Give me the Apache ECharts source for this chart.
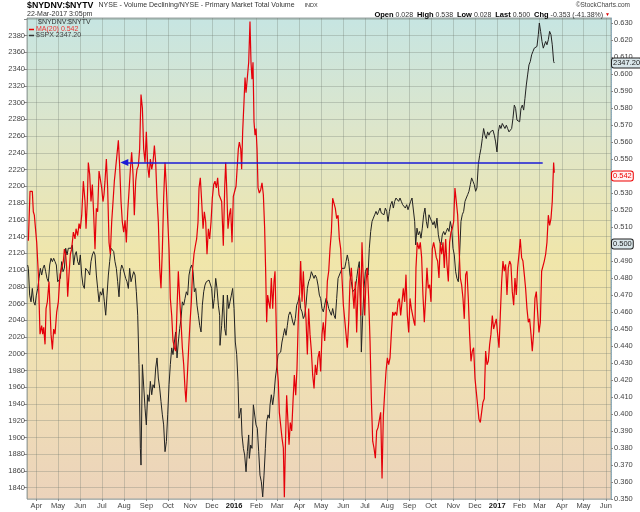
<!DOCTYPE html>
<html><head><meta charset="utf-8">
<script src="https://cdn.jsdelivr.net/npm/echarts@6/dist/echarts.min.js"></script>
<style>html,body{margin:0;padding:0;background:#fff}#c{width:640px;height:512px}</style>
</head><body><div id="c"></div>
<script>
// x positions are days since 2015-04-01
const maDays = [-11.2,-8.9,-5.7,-4.3,-2.9,0.4,2.7,5.0,7.3,8.7,10.1,12.0,13.4,15.2,17.5,20.3,22.2,24.0,25.9,28.2,30.5,32.8,35.1,37.5,38.9,40.7,42.1,43.5,45.3,47.2,49.0,51.4,53.7,55.1,57.4,59.3,61.1,63.0,65.3,67.6,69.0,70.8,72.2,74.1,75.9,77.8,79.7,81.5,83.4,85.2,87.1,88.9,90.8,92.6,94.0,95.4,97.3,99.1,101.0,102.8,104.7,106.6,108.4,110.3,112.1,114.0,115.8,117.7,119.5,121.4,123.3,125.1,127.0,128.8,130.7,132.5,134.4,136.2,138.1,139.9,141.8,143.6,145.5,147.4,149.2,151.1,152.9,154.8,156.7,158.5,160.4,162.2,164.1,165.9,167.8,169.6,171.5,173.3,175.2,177.0,178.9,180.8,182.6,184.5,186.3,188.2,190.0,191.9,193.7,195.6,197.4,199.3,201.2,203.0,204.9,206.7,208.1,210.0,211.8,213.7,215.5,217.4,219.2,221.1,222.9,224.8,226.2,228.0,229.9,231.8,233.6,235.5,237.3,239.2,241.0,242.9,244.7,246.6,248.4,250.3,252.1,254.0,
255.4,257.7,260.0,261.9,263.3,264.7,266.5,268.4,270.2,272.1,273.9,275.8,277.7,279.5,280.9,282.3,284.2,285.5,286.9,288.8,290.2,291.6,293.4,295.3,297.1,298.5,299.9,301.3,302.7,304.1,305.5,306.9,308.3,310.1,312.0,313.8,315.7,317.5,318.9,320.3,321.7,323.1,325.0,326.8,328.7,330.5,331.9,333.3,334.7,336.5,337.9,339.8,341.6,343.5,344.9,346.3,348.1,349.5,351.4,353.2,355.1,356.9,358.8,360.7,362.5,364.4,366.2,367.6,369.5,371.3,373.2,375.0,376.9,378.7,380.6,382.5,384.3,386.2,388.0,389.9,391.7,393.6,395.4,397.3,399.1,401.0,402.9,404.7,406.6,408.4,410.3,412.1,414.0,415.8,417.7,419.6,421.4,423.3,425.1,427.0,428.8,430.7,432.5,434.4,436.2,438.1,440.0,441.8,443.7,445.5,447.4,449.2,451.1,452.9,454.8,456.6,458.5,460.4,462.2,464.1,465.9,467.8,469.6,471.5,473.3,475.2,477.0,478.9,480.8,482.6,484.5,486.3,488.2,490.0,491.9,493.7,495.6,497.4,499.3,501.2,503.0,504.9,506.7,508.6,510.4,512.3,514.1,516.0,517.9,519.7,521.6,523.4,525.3,
526.6,528.0,529.8,532.2,534.0,535.9,537.7,539.6,541.4,543.3,545.1,547.0,548.9,550.7,552.6,554.4,556.3,558.1,560.0,561.8,563.7,565.6,567.4,569.3,571.1,573.0,574.8,576.7,578.5,580.4,582.2,584.1,586.0,587.8,589.7,591.5,593.4,595.2,597.1,598.9,600.8,602.6,604.5,606.4,608.2,610.1,611.9,613.8,615.6,617.5,619.3,621.2,623.0,624.9,626.8,628.6,630.5,632.3,634.2,636.0,637.9,639.7,641.6,643.5,645.3,647.2,649.0,650.9,652.7,654.6,656.4,658.3,660.1,662.0,663.9,665.7,667.6,669.4,671.3,673.1,675.0,676.8,678.7,680.5,682.4,684.3,686.1,688.0,689.8,691.7,693.5,695.4,697.2,699.1,701.0,702.8,704.7,706.5,708.4,710.2,712.1,713.9,715.8,717.6,719.5,720.4];
const maVals = [0.502,0.531,0.531,0.519,0.517,0.501,0.482,0.447,0.452,0.447,0.451,0.441,0.462,0.466,0.478,0.447,0.438,0.450,0.447,0.460,0.466,0.482,0.486,0.490,0.497,0.494,0.486,0.469,0.482,0.494,0.497,0.507,0.503,0.509,0.505,0.512,0.509,0.517,0.537,0.525,0.509,0.525,0.548,0.541,0.525,0.535,0.517,0.497,0.521,0.519,0.543,0.543,0.533,0.525,0.529,0.537,0.550,0.533,0.501,0.494,0.513,0.525,0.537,0.545,0.545,0.561,0.546,0.525,0.513,0.507,0.514,0.501,0.519,0.531,0.544,0.554,0.541,0.517,0.537,0.544,0.546,0.556,0.588,0.580,0.556,0.548,0.566,0.546,0.539,0.550,0.544,0.548,0.558,0.548,0.527,0.513,0.486,0.474,0.497,0.527,0.548,0.533,0.515,0.497,0.468,0.458,0.443,0.439,0.437,0.462,0.484,0.468,0.454,0.439,0.429,0.415,0.407,0.423,0.439,0.454,0.466,0.486,0.494,0.499,0.503,0.513,0.533,0.539,0.525,0.509,0.519,0.513,0.494,0.509,0.503,0.513,0.527,0.535,0.537,0.533,0.539,0.529,
0.528,0.525,0.499,0.533,0.548,0.533,0.509,0.517,0.521,0.501,0.528,0.527,0.534,0.535,0.556,0.560,0.556,0.544,0.566,0.584,0.598,0.589,0.589,0.607,0.631,0.607,0.597,0.607,0.572,0.564,0.568,0.556,0.533,0.530,0.532,0.536,0.529,0.509,0.484,0.454,0.470,0.466,0.462,0.480,0.462,0.478,0.484,0.458,0.429,0.419,0.401,0.402,0.386,0.380,0.351,0.380,0.411,0.399,0.382,0.395,0.390,0.407,0.423,0.411,0.427,0.458,0.472,0.490,0.466,0.484,0.466,0.456,0.435,0.462,0.447,0.437,0.423,0.415,0.429,0.423,0.433,0.437,0.425,0.447,0.454,0.443,0.458,0.478,0.484,0.497,0.507,0.527,0.527,0.521,0.515,0.517,0.503,0.497,0.480,0.464,0.456,0.447,0.439,0.454,0.478,0.486,0.472,0.462,0.478,0.448,0.474,0.486,0.458,0.501,0.478,0.458,0.478,0.486,0.468,0.443,0.409,0.384,0.380,0.374,0.390,0.392,0.392,0.401,0.362,0.399,0.413,0.425,0.433,0.429,0.433,0.447,0.460,0.458,0.460,0.458,0.466,0.468,0.458,0.466,0.474,0.466,0.482,0.458,0.448,0.468,0.462,0.458,0.454,
0.452,0.486,0.501,0.497,0.501,0.492,0.470,0.454,0.468,0.486,0.474,0.476,0.466,0.497,0.501,0.497,0.492,0.490,0.480,0.501,0.494,0.501,0.486,0.503,0.488,0.478,0.501,0.507,0.509,0.513,0.533,0.533,0.517,0.499,0.480,0.476,0.468,0.456,0.482,0.484,0.468,0.447,0.431,0.437,0.439,0.421,0.413,0.405,0.397,0.395,0.401,0.407,0.409,0.437,0.429,0.431,0.441,0.447,0.458,0.450,0.450,0.456,0.447,0.439,0.458,0.478,0.490,0.484,0.488,0.470,0.486,0.490,0.488,0.472,0.464,0.480,0.470,0.486,0.494,0.503,0.492,0.490,0.482,0.474,0.462,0.454,0.456,0.447,0.437,0.448,0.468,0.472,0.460,0.448,0.454,0.484,0.484,0.490,0.494,0.501,0.517,0.511,0.515,0.525,0.548,0.542];
const spxDays = [-12.2,-11.2,-9.4,-7.5,-5.7,-3.8,-1.9,-0.1,1.8,3.6,5.5,7.3,9.2,11.0,12.9,14.7,16.6,18.5,20.3,22.2,24.0,25.9,27.7,29.6,31.4,33.3,35.1,37.0,38.9,40.7,42.6,44.4,46.3,48.1,50.0,51.8,53.7,55.5,57.4,59.3,61.1,63.0,64.8,66.7,68.5,70.4,72.2,74.1,75.9,77.8,79.7,81.5,83.4,85.2,87.1,88.9,90.8,92.6,94.5,96.4,98.2,100.1,101.9,103.8,105.6,107.5,109.3,111.2,113.0,114.9,116.8,118.6,120.5,122.3,124.2,126.0,127.9,129.7,131.6,133.5,135.3,137.2,139.0,140.9,142.7,144.6,145.5,147.4,149.2,151.1,152.9,154.8,156.7,158.5,160.4,162.2,164.1,165.9,167.8,169.6,171.5,173.3,175.2,177.0,178.9,180.8,182.6,184.5,186.3,188.2,190.0,191.9,193.7,195.6,197.4,199.3,201.2,203.0,204.9,206.7,208.6,210.4,212.3,214.1,216.0,217.9,219.7,221.6,223.4,225.3,227.1,229.0,230.8,232.7,234.5,236.4,238.3,240.1,242.0,243.8,245.7,247.5,249.4,251.2,253.1,254.9,
255.4,257.7,260.0,261.9,263.7,265.6,267.5,269.3,271.2,273.0,274.9,276.7,278.6,280.4,281.8,283.2,284.6,286.0,287.9,289.7,291.6,293.4,295.3,296.2,298.1,299.9,301.8,303.6,305.5,307.3,309.2,311.0,312.9,314.8,316.6,318.5,320.3,322.2,324.0,325.0,326.8,328.7,330.5,332.4,334.2,336.1,337.9,339.8,341.6,343.5,345.4,347.2,349.1,350.9,352.8,354.6,356.5,358.3,360.2,362.0,363.9,365.8,367.6,369.5,371.3,373.2,375.0,376.9,378.7,380.6,382.5,384.3,386.2,388.0,389.9,391.7,393.6,395.4,397.3,399.1,401.0,402.9,404.7,406.6,408.4,410.3,412.1,414.0,415.8,417.7,419.6,421.4,423.3,425.1,427.0,428.8,430.7,432.5,434.4,436.2,438.1,440.0,441.8,443.7,445.5,447.4,449.2,451.1,452.0,453.9,455.7,457.6,459.4,461.3,463.1,465.0,466.9,468.7,470.6,472.4,474.3,476.1,478.0,479.8,481.7,483.5,485.4,487.3,489.1,491.0,492.8,494.7,496.5,498.4,500.2,502.1,503.9,505.8,507.6,509.5,511.4,513.2,515.1,516.9,518.8,520.6,522.5,524.3,526.2,527.6,
529.4,531.2,533.1,535.0,536.8,538.7,540.5,542.4,544.2,546.1,547.9,549.8,551.6,553.5,555.3,557.2,559.1,560.9,562.8,564.6,566.5,568.3,570.2,572.0,573.9,575.8,577.6,579.5,581.3,583.2,585.0,586.9,588.7,590.6,592.4,594.3,596.2,598.0,599.9,601.7,603.6,605.4,607.3,609.1,611.0,612.8,614.7,616.6,618.4,620.3,622.1,624.0,625.8,627.7,629.5,631.4,633.3,635.1,637.0,638.8,640.7,642.5,644.4,646.2,648.1,649.9,651.8,653.7,655.5,657.4,659.2,661.1,662.9,664.8,666.6,668.5,670.3,672.2,674.1,675.9,677.8,679.6,681.5,683.3,685.2,687.0,688.9,690.7,692.6,694.5,696.3,698.2,699.6,701.4,703.3,705.1,706.5,708.4,710.2,712.1,713.9,715.8,717.6,719.5,720.4];
const spxVals = [2106,2102,2070,2062,2078,2062,2058,2070,2078,2090,2102,2094,2102,2106,2098,2090,2086,2106,2114,2110,2114,2110,2106,2086,2086,2090,2110,2098,2102,2126,2118,2126,2128,2126,2130,2106,2118,2122,2110,2106,2118,2094,2082,2078,2102,2102,2098,2094,2110,2118,2122,2118,2094,2078,2062,2074,2070,2078,2062,2046,2070,2094,2110,2126,2128,2122,2110,2102,2086,2068,2098,2106,2102,2102,2090,2086,2078,2102,2086,2086,2098,2094,2074,2046,1987,1887,1867,1987,1987,1935,1915,1951,1943,1967,1951,1963,1959,1983,1995,1971,1959,1943,1927,1915,1883,1895,1927,1963,1987,2007,1999,2014,2026,1995,2014,2030,2042,2062,2058,2066,2074,2070,2094,2102,2106,2098,2074,2078,2058,2046,2034,2026,2058,2074,2082,2086,2086,2088,2090,2078,2054,2066,2090,2078,2058,2046,
2010,2034,2070,2030,2022,2070,2054,2062,2070,2078,2054,2014,1999,1967,1923,1923,1935,1903,1887,1879,1859,1883,1903,1875,1891,1887,1939,1939,1915,1911,1883,1855,1847,1829,1855,1887,1919,1927,1923,1939,1951,1939,1951,1971,1983,1999,1999,2002,2014,2022,2030,2022,2034,2046,2050,2046,2038,2034,2042,2058,2062,2070,2054,2050,2042,2046,2058,2078,2086,2090,2098,2098,2090,2094,2090,2082,2070,2066,2054,2050,2058,2066,2062,2054,2050,2046,2054,2046,2042,2066,2090,2090,2098,2102,2102,2102,2110,2118,2110,2094,2086,2074,2074,2078,2090,2102,2110,2058,2002,2046,2078,2098,2102,2094,2126,2146,2158,2162,2166,2170,2166,2170,2174,2168,2170,2166,2174,2170,2158,2170,2178,2182,2174,2182,2186,2188,2182,2186,2182,2178,2176,2174,2178,2172,2170,2182,2186,2184,2158,2130,
2150,2142,2146,2138,2150,2166,2174,2158,2150,2166,2162,2158,2154,2158,2150,2162,2142,2134,2130,2142,2146,2142,2146,2150,2146,2158,2150,2126,2118,2098,2090,2086,2118,2158,2166,2170,2182,2186,2190,2194,2202,2210,2206,2202,2194,2198,2226,2237,2245,2257,2269,2261,2257,2265,2261,2265,2263,2267,2261,2253,2241,2265,2273,2269,2275,2273,2269,2273,2269,2265,2267,2269,2281,2297,2293,2279,2277,2277,2293,2297,2291,2305,2321,2333,2345,2349,2357,2361,2365,2365,2367,2381,2395,2385,2373,2365,2367,2373,2369,2375,2385,2381,2369,2349,2347.2];

const maLast = 0.542, rawLast = 0.500, spxLast = 2347.20;
const arrowDays = [122.3, 704.3], arrowLevel = 0.548;
const xRangeDays = [-13.1, 799.3];
const leftRange = [1826.5, 2401], rightRange = [0.350, 0.633];
const MONTHS = ['Jan','Feb','Mar','Apr','May','Jun','Jul','Aug','Sep','Oct','Nov','Dec'];

const DAY = 864e5;
const base = new Date(2015, 3, 1).getTime();
const t = d => base + d * DAY;
const maData = maDays.map((d, i) => [t(d), maVals[i]]);
const spxData = spxDays.map((d, i) => [t(d), spxVals[i]]);

const FONT = '"Liberation Sans", Arial, sans-serif';
const gridCol = 'rgba(110,120,110,0.3)';
const hidden = {color: 'rgba(0,0,0,0)', width: 0, type: 'solid'};
const boxLabel = (text, color, bg) => ({show: true, position: 'end', distance: 1, formatter: () => text,
  fontSize: 7.5, color: color, backgroundColor: bg, borderColor: color, borderWidth: 1, borderRadius: 2,
  padding: [1, 1, 0, 1], fontFamily: FONT});

const chart = echarts.init(document.getElementById('c'), null, {renderer: 'canvas'});
chart.setOption({
  animation: false,
  textStyle: {fontFamily: FONT},
  title: [
    {left: 27, top: 0, padding: 0, text: '{b|$NYDNV:$NYTV} {n|NYSE - Volume Declining/NYSE - Primary Market Total Volume}  {s|INDX}',
      textStyle: {lineHeight: 11, fontWeight: 'normal', rich: {b: {fontSize: 8.8, fontWeight: 'bold', color: '#000', fontFamily: FONT, lineHeight: 11},
        n: {fontSize: 7, fontWeight: 'normal', color: '#333', fontFamily: FONT, lineHeight: 11},
        s: {fontSize: 5.5, fontWeight: 'normal', color: '#333', fontFamily: FONT, lineHeight: 11}}}},
    {left: 27, top: 10.5, padding: 0, text: '22-Mar-2017 3:05pm', textStyle: {fontSize: 7, lineHeight: 8, fontWeight: 'normal', color: '#333', fontFamily: FONT}},
    {right: 10, top: 2, padding: 0, text: '\u00A9StockCharts.com', textStyle: {fontSize: 6.5, fontWeight: 'normal', color: '#444', fontFamily: FONT}},
    {right: 30, top: 10.5, padding: 0,
      text: '{b|Open} 0.028  {b|High} 0.538  {b|Low} 0.028  {b|Last} 0.500  {b|Chg} -0.353 (-41.38%) {r|\u25BC}',
      textStyle: {fontSize: 7, lineHeight: 9, fontWeight: 'normal', color: '#333', fontFamily: FONT,
        rich: {b: {fontSize: 7.5, fontWeight: 'bold', color: '#000', fontFamily: FONT, lineHeight: 9}, r: {fontSize: 5, color: '#d00', fontFamily: FONT, lineHeight: 9}}}}
  ],
  graphic: [
    {type: 'text', left: 38, top: 18.5, z: 10, style: {text: '$NYDNV:$NYTV', fontSize: 7, fontFamily: FONT, fill: '#333'}},
    {type: 'line', z: 10, shape: {x1: 29, y1: 29.5, x2: 34, y2: 29.5}, style: {stroke: '#e00', lineWidth: 1.5}},
    {type: 'text', left: 36, top: 25.5, z: 10, style: {text: 'MA(20) ' + maLast.toFixed(3), fontSize: 7, fontFamily: FONT, fill: '#e33'}},
    {type: 'line', z: 10, shape: {x1: 29, y1: 35.5, x2: 34, y2: 35.5}, style: {stroke: '#333', lineWidth: 1.5}},
    {type: 'text', left: 36, top: 31.5, z: 10, style: {text: '$SPX ' + spxLast.toFixed(2), fontSize: 7, fontFamily: FONT, fill: '#444'}}
  ],
  grid: {left: 27, right: 29, top: 18, bottom: 13, show: true, borderColor: '#9aa4a4', borderWidth: 1,
    backgroundColor: new echarts.graphic.LinearGradient(0, 0, 0, 1, [
      {offset: 0, color: '#c6e5e2'}, {offset: 0.25, color: '#dfe6c9'}, {offset: 0.5, color: '#f0e6aa'},
      {offset: 0.75, color: '#efdfb4'}, {offset: 1, color: '#ecd3bb'}])},
  xAxis: {type: 'time', min: t(xRangeDays[0]), max: t(xRangeDays[1]), splitNumber: 27,
    minInterval: 28 * DAY, maxInterval: 31 * DAY,
    axisLine: {show: false}, axisTick: {show: true, length: 2, lineStyle: {color: '#888'}},
    splitLine: {show: true, lineStyle: {color: gridCol, width: 1}},
    axisLabel: {fontSize: 7.5, color: '#444', margin: 3, showMinLabel: false, showMaxLabel: false, hideOverlap: false,
      formatter: v => { const d = new Date(v); return d.getMonth() === 0 ? '{y|' + d.getFullYear() + '}' : MONTHS[d.getMonth()]; },
      rich: {y: {fontWeight: 'bold', color: '#111', fontSize: 7.5, fontFamily: FONT}}}},
  yAxis: [
    {type: 'value', position: 'left', min: leftRange[0], max: leftRange[1], minInterval: 20, maxInterval: 20, splitNumber: 29,
      axisLine: {show: false}, axisTick: {show: true, length: 3, lineStyle: {color: '#888'}},
      splitLine: {show: true, lineStyle: {color: gridCol, width: 1}},
      axisLabel: {fontSize: 7.5, color: '#444', margin: 2, showMinLabel: false, showMaxLabel: false,
        formatter: v => (Math.abs(v % 20) < 1e-6 && v < 2390) ? String(v) : ''}},
    {type: 'value', position: 'right', min: rightRange[0], max: rightRange[1], minInterval: 0.01, maxInterval: 0.01, splitNumber: 28,
      axisLine: {show: true, lineStyle: {color: '#8ab', type: 'dotted'}}, axisTick: {show: true, length: 2, lineStyle: {color: '#888'}},
      splitLine: {show: false},
      axisLabel: {fontSize: 7.5, color: '#444', margin: 3, showMaxLabel: false,
        formatter: v => v > 0.6305 ? '' : v.toFixed(3)}}
  ],
  series: [
    {type: 'line', name: '$SPX', yAxisIndex: 0, data: spxData, symbol: 'none', z: 2,
      lineStyle: {color: '#222', width: 1},
      markLine: {silent: true, symbol: 'none', lineStyle: hidden, z: 6,
        data: [{yAxis: spxLast, lineStyle: hidden, label: boxLabel(spxLast.toFixed(2), '#222', '#d9e6ea')}]}},
    {type: 'line', name: 'MA(20)', yAxisIndex: 1, data: maData, symbol: 'none', z: 3,
      lineStyle: {color: '#e5000a', width: 1.2},
      markLine: {silent: true, symbol: 'none', z: 6,
        data: [
          [{coord: [t(arrowDays[0]), arrowLevel], symbol: 'triangle', symbolSize: [7, 8],
             lineStyle: {color: '#1b1bd6', width: 1.5, type: 'solid', opacity: 1}, label: {show: false}},
           {coord: [t(arrowDays[1]), arrowLevel], symbol: 'none'}],
          {yAxis: maLast, lineStyle: hidden, label: boxLabel(maLast.toFixed(3), '#e00', '#fff2f2')},
          {yAxis: rawLast, lineStyle: hidden, label: boxLabel(rawLast.toFixed(3), '#222', '#d9e6ea')}
        ]}}
  ]
});
</script></body></html>
